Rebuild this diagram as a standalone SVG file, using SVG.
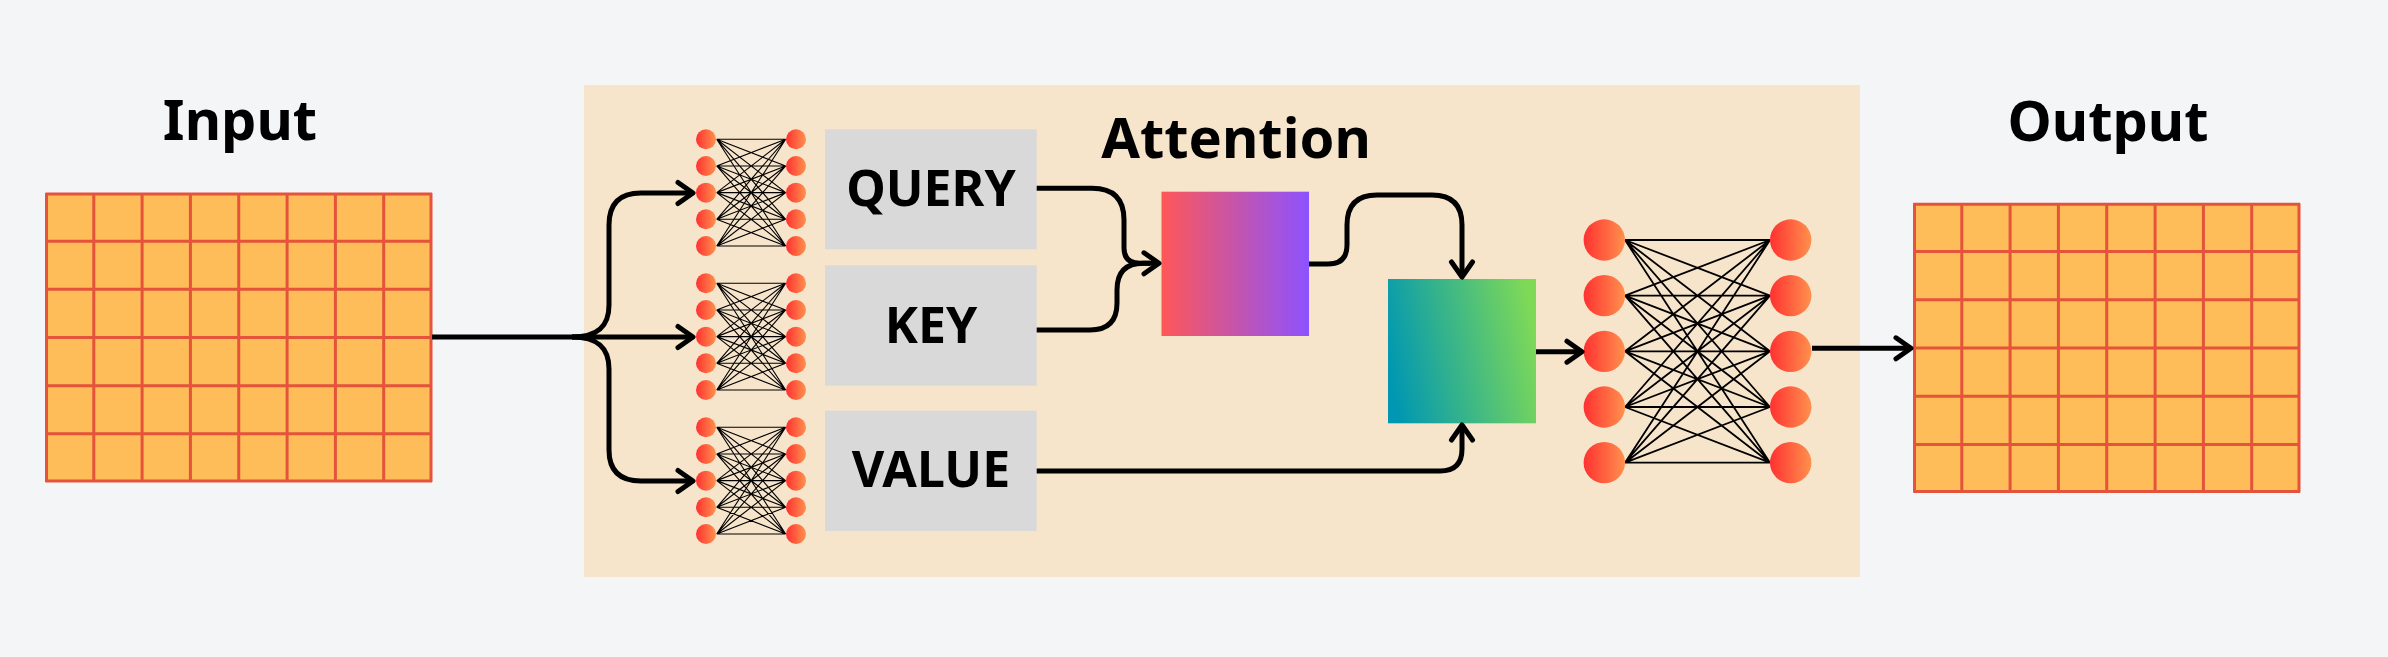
<svg xmlns="http://www.w3.org/2000/svg" xmlns:xlink="http://www.w3.org/1999/xlink" width="2388" height="657" viewBox="0 0 2388 657">
  <style>
    .label { font-family: "Noto Sans", "Open Sans", "Liberation Sans", sans-serif; font-weight: 700; fill: #000; text-anchor: middle; }
    .title { font-size: 56px; }
    .box-text { font-size: 50px; }
    .grid-fill { fill: #ffbd59; }
    .grid-line { fill: none; stroke: #e4533a; stroke-width: 3; }
    .gray { fill: #d9d9d9; }
    .conn { fill: none; stroke: #000; stroke-width: 5; stroke-linejoin: round; }
    .wire { fill: none; stroke: #000; stroke-width: 1.1; }
    .wire-big { fill: none; stroke: #000; stroke-width: 1.8; }
    .neuron { fill: url(#neuronGrad); }
  </style>
  <defs>
    <linearGradient id="neuronGrad" x1="0" y1="0" x2="1" y2="0">
      <stop offset="0" stop-color="#ff3131"/>
      <stop offset="1" stop-color="#ff914d"/>
    </linearGradient>
    <linearGradient id="pinkGrad" x1="0" y1="0" x2="1" y2="0">
      <stop offset="0" stop-color="#ff5757"/>
      <stop offset="1" stop-color="#8c52ff"/>
    </linearGradient>
    <linearGradient id="tealGrad" x1="0" y1="0.6" x2="1" y2="0.4">
      <stop offset="0" stop-color="#0097b2"/>
      <stop offset="1" stop-color="#7ed957"/>
    </linearGradient>
    <marker id="arrow" markerUnits="userSpaceOnUse" viewBox="-20 -14 24 28" refX="0" refY="0" markerWidth="24" markerHeight="28" orient="auto" overflow="visible">
      <path d="M-15,-10.5 L0,0 L-15,10.5" fill="none" stroke="#000" stroke-width="5" stroke-linecap="round" stroke-linejoin="round"/>
    </marker>
    <g id="miniNet">
      <path class="wire" d="M10.7 0L79.7 0M10.7 0L79.7 26.67M10.7 0L79.7 53.33M10.7 0L79.7 80M10.7 0L79.7 106.67
        M10.7 26.67L79.7 0M10.7 26.67L79.7 26.67M10.7 26.67L79.7 53.33M10.7 26.67L79.7 80M10.7 26.67L79.7 106.67
        M10.7 53.33L79.7 0M10.7 53.33L79.7 26.67M10.7 53.33L79.7 53.33M10.7 53.33L79.7 80M10.7 53.33L79.7 106.67
        M10.7 80L79.7 0M10.7 80L79.7 26.67M10.7 80L79.7 53.33M10.7 80L79.7 80M10.7 80L79.7 106.67
        M10.7 106.67L79.7 0M10.7 106.67L79.7 26.67M10.7 106.67L79.7 53.33M10.7 106.67L79.7 80M10.7 106.67L79.7 106.67"/>
      <circle class="neuron" cx="0" cy="0" r="10"/>
      <circle class="neuron" cx="0" cy="26.67" r="10"/>
      <circle class="neuron" cx="0" cy="53.33" r="10"/>
      <circle class="neuron" cx="0" cy="80" r="10"/>
      <circle class="neuron" cx="0" cy="106.67" r="10"/>
      <circle class="neuron" cx="90" cy="0" r="10"/>
      <circle class="neuron" cx="90" cy="26.67" r="10"/>
      <circle class="neuron" cx="90" cy="53.33" r="10"/>
      <circle class="neuron" cx="90" cy="80" r="10"/>
      <circle class="neuron" cx="90" cy="106.67" r="10"/>
    </g>
  </defs>

  <!-- background -->
  <rect x="0" y="0" width="2388" height="657" fill="#f4f5f7"/>

  <!-- attention panel -->
  <g id="attention-panel">
    <rect x="584" y="85" width="1276" height="492" fill="#f6e4cb"/>
    <text class="label title" x="1236" y="158">Attention</text>
  </g>

  <!-- input -->
  <g id="input">
    <text class="label title" x="240" y="140">Input</text>
    <rect class="grid-fill" x="45.5" y="193" width="386.5" height="289"/>
    <path class="grid-line" d="M46.5 193V482M93.8 193V482M142.1 193V482M190.4 193V482M238.75 193V482M287.1 193V482M335.4 193V482M383.7 193V482M431 193V482
      M45.5 194H432M45.5 241.2H432M45.5 289.3H432M45.5 337.5H432M45.5 385.7H432M45.5 433.8H432M45.5 481H432"/>
  </g>

  <!-- output -->
  <g id="output">
    <text class="label title" x="2108" y="141">Output</text>
    <rect class="grid-fill" x="1913.5" y="203.3" width="386.5" height="289.3"/>
    <path class="grid-line" d="M1914.5 203.3V492.6M1961.8 203.3V492.6M2010.1 203.3V492.6M2058.4 203.3V492.6M2106.75 203.3V492.6M2155.1 203.3V492.6M2203.4 203.3V492.6M2251.7 203.3V492.6M2299 203.3V492.6
      M1913.5 204.3H2300M1913.5 251.5H2300M1913.5 299.7H2300M1913.5 348H2300M1913.5 396.2H2300M1913.5 444.4H2300M1913.5 491.6H2300"/>
  </g>

  <!-- Q/K/V projection nets -->
  <g id="net-query"><use xlink:href="#miniNet" href="#miniNet" x="706" y="139.3"/></g>
  <g id="net-key"><use xlink:href="#miniNet" href="#miniNet" x="706" y="283.3"/></g>
  <g id="net-value"><use xlink:href="#miniNet" href="#miniNet" x="706" y="427.3"/></g>

  <!-- Q/K/V boxes -->
  <g id="query">
    <rect class="gray" x="825" y="129.3" width="211.7" height="120"/>
    <text class="label box-text" x="931" y="206">QUERY</text>
  </g>
  <g id="key">
    <rect class="gray" x="825" y="265.3" width="211.7" height="120.4"/>
    <text class="label box-text" x="931" y="343.3">KEY</text>
  </g>
  <g id="value">
    <rect class="gray" x="825" y="410.7" width="211.7" height="120.3"/>
    <text class="label box-text" x="931" y="487.3">VALUE</text>
  </g>

  <!-- score / attention boxes -->
  <g id="score">
    <rect x="1161.5" y="191.7" width="147.5" height="144.3" fill="url(#pinkGrad)"/>
  </g>
  <g id="weighted">
    <rect x="1388" y="279" width="148" height="144.3" fill="url(#tealGrad)"/>
  </g>

  <!-- feed-forward net -->
  <g id="ffn">
    <path class="wire-big" d="M1625 240L1770 240M1625 240L1770 295.67M1625 240L1770 351.33M1625 240L1770 407M1625 240L1770 462.67
      M1625 295.67L1770 240M1625 295.67L1770 295.67M1625 295.67L1770 351.33M1625 295.67L1770 407M1625 295.67L1770 462.67
      M1625 351.33L1770 240M1625 351.33L1770 295.67M1625 351.33L1770 351.33M1625 351.33L1770 407M1625 351.33L1770 462.67
      M1625 407L1770 240M1625 407L1770 295.67M1625 407L1770 351.33M1625 407L1770 407M1625 407L1770 462.67
      M1625 462.67L1770 240M1625 462.67L1770 295.67M1625 462.67L1770 351.33M1625 462.67L1770 407M1625 462.67L1770 462.67"/>
    <circle class="neuron" cx="1604.3" cy="240" r="20.7"/>
    <circle class="neuron" cx="1604.3" cy="295.67" r="20.7"/>
    <circle class="neuron" cx="1604.3" cy="351.33" r="20.7"/>
    <circle class="neuron" cx="1604.3" cy="407" r="20.7"/>
    <circle class="neuron" cx="1604.3" cy="462.67" r="20.7"/>
    <circle class="neuron" cx="1790.7" cy="240" r="20.7"/>
    <circle class="neuron" cx="1790.7" cy="295.67" r="20.7"/>
    <circle class="neuron" cx="1790.7" cy="351.33" r="20.7"/>
    <circle class="neuron" cx="1790.7" cy="407" r="20.7"/>
    <circle class="neuron" cx="1790.7" cy="462.67" r="20.7"/>
  </g>

  <!-- connectors -->
  <g id="connectors">
    <path class="conn" d="M432,337 H693" marker-end="url(#arrow)"/>
    <path class="conn" d="M572,337 C598,337 609,326 609,305 V225 Q609,193 641,193 H693" marker-end="url(#arrow)"/>
    <path class="conn" d="M572,337 C598,337 609,348 609,369 V450 Q609,481 641,481 H693" marker-end="url(#arrow)"/>
    <path class="conn" d="M1036.7,188.3 H1092 Q1124,188.3 1124,220 V248 Q1124,263.3 1140,263.3 H1159" marker-end="url(#arrow)"/>
    <path class="conn" d="M1036.7,330 H1090 Q1117,330 1117,303 V290 Q1117,263.3 1143,263.3 H1150"/>
    <path class="conn" d="M1309,264 H1328 Q1347,264 1347,245 V225 Q1347,195 1377,195 H1432 Q1462,195 1462,225 V277" marker-end="url(#arrow)"/>
    <path class="conn" d="M1036.7,471 H1440 Q1462,471 1462,449 V425" marker-end="url(#arrow)"/>
    <path class="conn" d="M1536,351.7 H1582" marker-end="url(#arrow)"/>
    <path class="conn" d="M1812,348.3 H1911" marker-end="url(#arrow)"/>
  </g>
</svg>
